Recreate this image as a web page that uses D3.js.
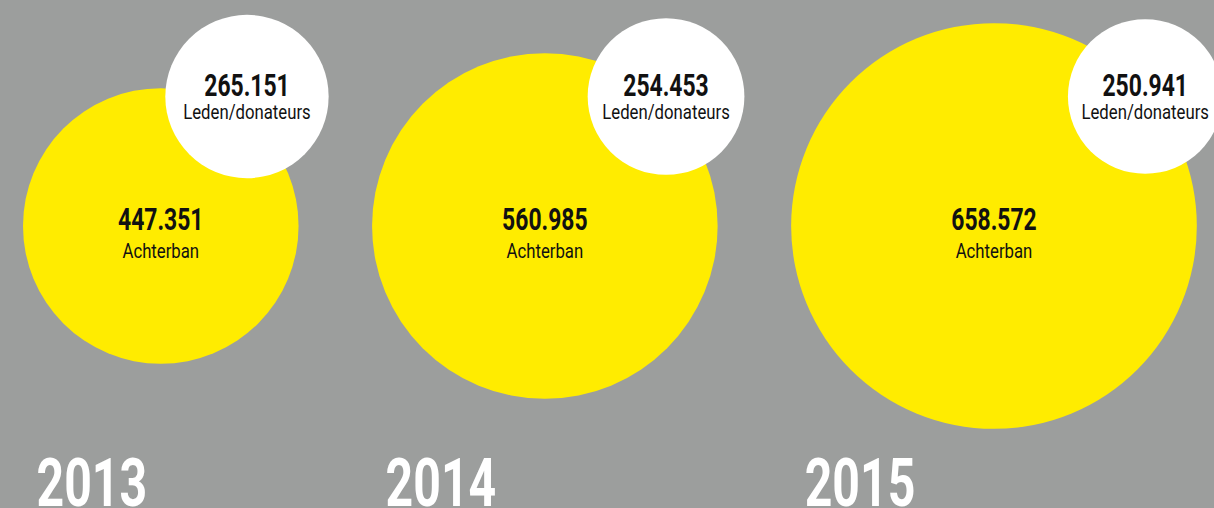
<!DOCTYPE html>
<html>
<head>
<meta charset="utf-8">
<script src="https://cdn.jsdelivr.net/npm/d3@7"></script>
<style>
  body { margin: 0; background: #9c9e9d; overflow: hidden; }
  text { font-family: Roboto, "Liberation Sans", sans-serif; }
</style>
</head>
<body>
<div id="chart"></div>
<script>
// data
var years = ["2013", "2014", "2015"];
var achterban = [447351, 560985, 658572];
var leden = [265151, 254453, 250941];
var bigLabel = "Achterban";
var smallLabel = "Leden/donateurs";

var width = 1214, height = 508;

// dutch number format: 447.351
var nl = d3.formatLocale({decimal: ",", thousands: ".", grouping: [3], currency: ["€", ""]});
var fmt = nl.format(",");

var svg = d3.select("#chart")
  .append("svg")
    .attr("width", width)
    .attr("height", height);

// radius linear in value (as in the original)
var r = d3.scaleLinear()
  .domain([0, 700000])
  .range([0, 215.6]);

// layout: bubbles packed left to right on one line
var midY = 226, startX = 23, gap = 73.5, smallY = 96.5, smallInset = 51.6;
var nodes = years.map(function(y, i) {
  return {year: y, big: achterban[i], small: leden[i]};
});
var cursor = startX;
nodes.forEach(function(d) {
  d.r = r(d.big);
  d.cx = cursor + d.r;
  cursor = d.cx + d.r + gap;
  d.wr = r(d.small);
  d.wx = d.cx + d.r - smallInset;
});

// measure text to squeeze it into a condensed look
function measure(str, size, weight) {
  var t = svg.append("text").attr("font-size", size).attr("font-weight", weight).text(str);
  var w = t.node().getComputedTextLength();
  t.remove();
  return w;
}
var numK = 85.5 / measure(fmt(achterban[0]), 32, 700);
var labK = 76.7 / measure(bigLabel, 20.5, 400);
var yearK = 110.7 / measure(years[0], 66, 700);

var g = svg.selectAll(".year")
  .data(nodes)
  .enter().append("g")
    .attr("class", "year");

// yellow: achterban
g.append("circle")
  .attr("cx", d => d.cx)
  .attr("cy", midY)
  .attr("r", d => d.r)
  .attr("fill", "#ffec00");

// white: leden/donateurs
g.append("circle")
  .attr("cx", d => d.wx)
  .attr("cy", smallY)
  .attr("r", d => d.wr)
  .attr("fill", "#ffffff");

function label(sel, txt, x, y, size, weight, k, fill, anchor) {
  sel.append("text")
    .attr("transform", d => "translate(" + x(d) + "," + y(d) + ") scale(" + k + ",1)")
    .attr("text-anchor", anchor || "middle")
    .attr("font-size", size)
    .attr("font-weight", weight)
    .attr("fill", fill)
    .text(txt);
}

label(g, d => fmt(d.big), d => d.cx, d => midY + 3.5, 32, 700, numK, "#111");
label(g, bigLabel, d => d.cx, d => midY + 31.5, 20.5, 400, labK, "#111");
label(g, d => fmt(d.small), d => d.wx, d => smallY - 0.7, 32, 700, numK, "#111");
label(g, smallLabel, d => d.wx, d => smallY + 22.3, 20.5, 400, labK, "#111");

// year under each bubble
label(g, d => d.year, d => d.cx - d.r + 13.5, d => 506, 66, 700, yearK, "#ffffff", "start");
</script>
</body>
</html>
